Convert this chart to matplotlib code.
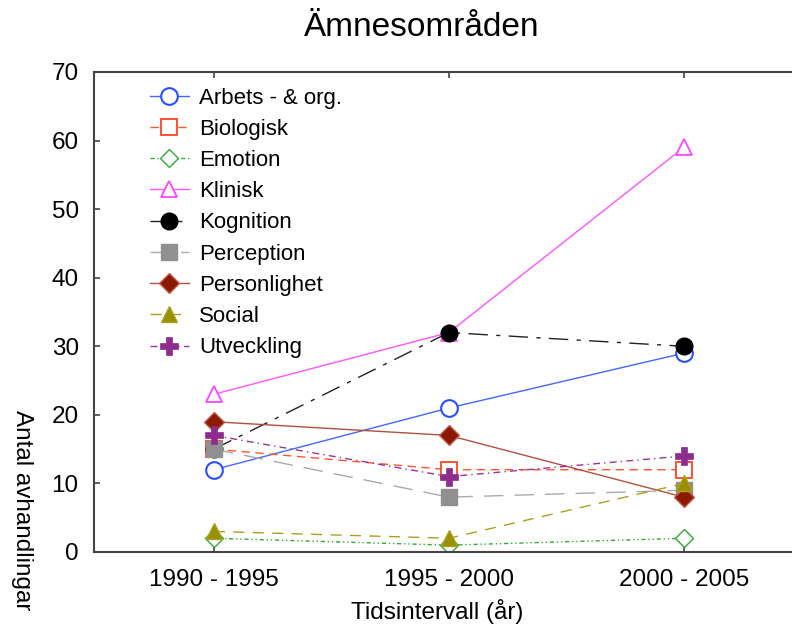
import matplotlib
matplotlib.use("Agg")
import matplotlib.pyplot as plt

plt.rcParams['font.family'] = ['Liberation Sans', 'DejaVu Sans']

# Data
perioder = ['1990 - 1995', '1995 - 2000', '2000 - 2005']
serier = ['Arbets - & org.', 'Biologisk', 'Emotion', 'Klinisk', 'Kognition',
          'Perception', 'Personlighet', 'Social', 'Utveckling']
arbets = [12, 21, 29]
biologisk = [15, 12, 12]
emotion = [2, 1, 2]
klinisk = [23, 32, 59]
kognition = [15, 32, 30]
perception = [15, 8, 9]
personlighet = [19, 17, 8]
social = [3, 2, 10]
utveckling = [17, 11, 14]
yticks = [0, 10, 20, 30, 40, 50, 60, 70]

varden = [arbets, biologisk, emotion, klinisk, kognition,
          perception, personlighet, social, utveckling]

# stil per serie: linjefärg, linjestil, markör, markörfyllning, kantfärg
stilar = [
    dict(color='#4468ff', ls='-', marker='o', mfc='white', mec='#2a4dff', ms=12, mew=1.5),
    dict(color='#ff5533', ls=(0, (6, 4)), marker='s', mfc='white', mec='#ff4422', ms=11, mew=1.3),
    dict(color='#33aa33', ls=(0, (3, 2, 1, 2, 1, 2)), marker='D', mfc='white', mec='#33aa33', ms=9, mew=1.0),
    dict(color='#ff55ff', ls='-', marker='^', mfc='white', mec='#ff44ff', ms=12, mew=1.3),
    dict(color='#222222', ls=(0, (14, 6, 3, 6)), marker='o', mfc='black', mec='black', ms=12, mew=1.0),
    dict(color='#aaaaaa', ls=(0, (14, 8)), marker='s', mfc='#909090', mec='#909090', ms=11, mew=1.0),
    dict(color='#b05040', ls='-', marker='D', mfc='#8b1a00', mec='#c06050', ms=10, mew=1.0),
    dict(color='#aaa020', ls=(0, (8, 6)), marker='^', mfc='#999000', mec='#aaa020', ms=12, mew=1.0),
    dict(color='#993399', ls=(0, (5, 3, 1, 3)), marker='P', mfc='#8e2c8e', mec='#8e2c8e', ms=13, mew=0.5),
]

fig = plt.figure(figsize=(7.92, 6.30), dpi=100)
ax = fig.add_axes([94 / 792, (630 - 552) / 630, (792 - 94) / 792, (552 - 72) / 630])

x = range(len(perioder))
for namn, y, st in zip(serier, varden, stilar):
    ax.plot(x, y, color=st['color'], linestyle=st['ls'], linewidth=1.0,
            marker=st['marker'], markerfacecolor=st['mfc'], markeredgecolor=st['mec'],
            markersize=st['ms'], markeredgewidth=st['mew'], label=namn)

ax.set_xlim(-0.51, 2.46)
ax.set_ylim(0, 70)
ax.set_yticks(yticks)
ax.set_xticks(list(x))
ax.set_xticklabels(perioder)

for side in ['left', 'bottom', 'top']:
    ax.spines[side].set_color('#444444')
    ax.spines[side].set_linewidth(1.5)
ax.spines['right'].set_visible(False)
ax.tick_params(axis='both', direction='in', length=4, width=1.2, color='#444444',
               labelsize=17.5, pad=11)
ax.tick_params(axis='x', top=True, pad=12)

# titel och axeltitlar placeras i figurkoordinater
fig.text(422 / 792, 1 - 28 / 630, 'Ämnesområden', fontsize=24, ha='center', va='center')
fig.text(437 / 792, 1 - 612 / 630, 'Tidsintervall (år)', fontsize=17.5, ha='center', va='center')
fig.text(22 / 792, 1 - 510 / 630, 'Antal avhandlingar', fontsize=17.5, rotation=-90,
         ha='center', va='center')

leg = ax.legend(loc='upper left', bbox_to_anchor=(0.058, 1.0), frameon=False,
                fontsize=16, handlelength=1.75, handletextpad=0.45, labelspacing=0.46,
                borderaxespad=0.3)

plt.savefig('out.png', dpi=100)
